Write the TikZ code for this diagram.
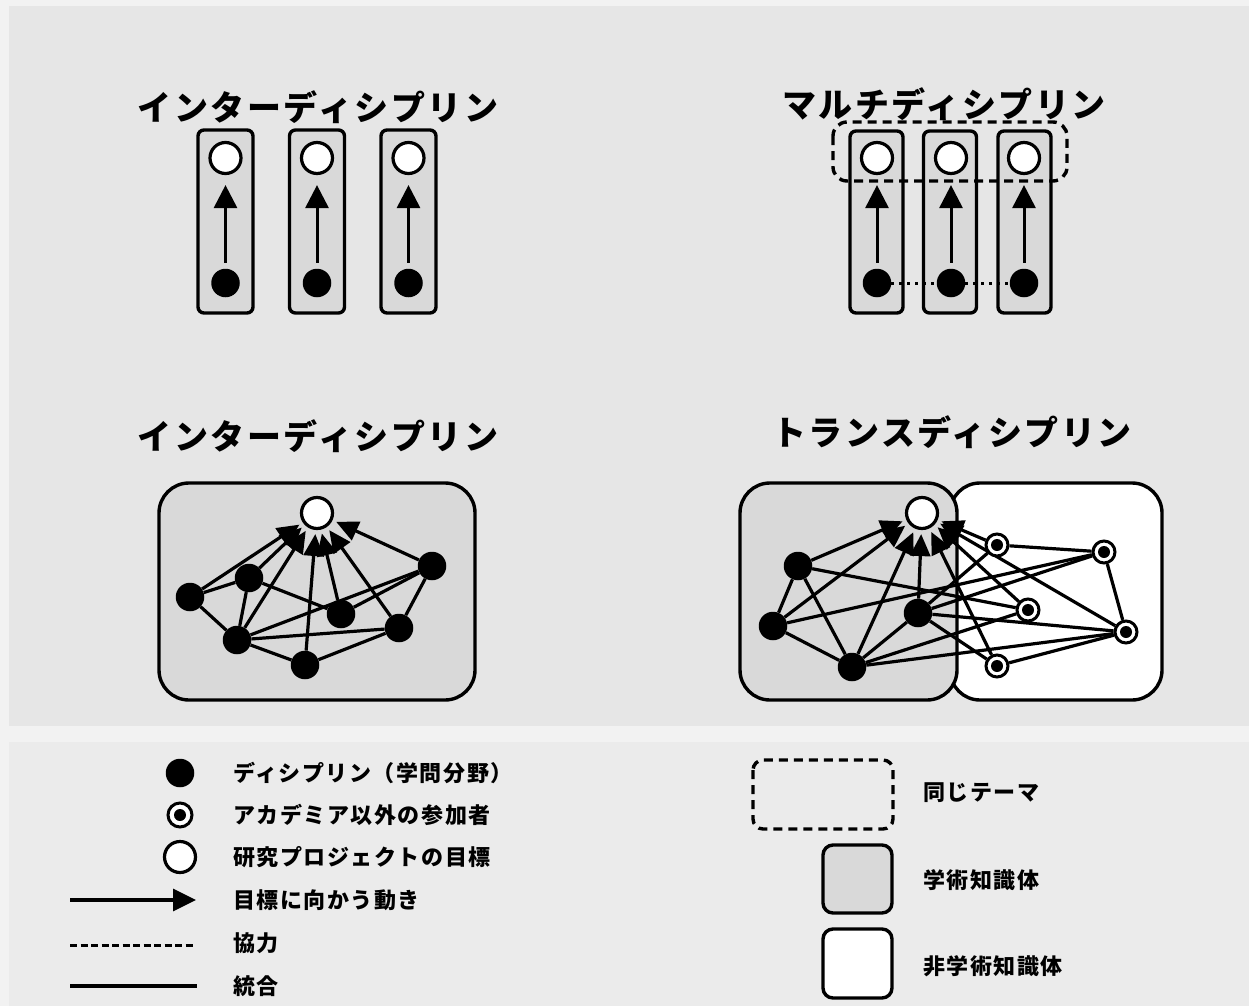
\documentclass[tikz,border=0pt]{standalone}
\usepackage{fontspec}
\setmainfont{Noto Sans CJK JP}
\newfontfamily\titlefont{Noto Sans CJK JP}[LetterSpace=7.5]
\newfontfamily\legfont{Noto Sans CJK JP}[LetterSpace=7]
\usetikzlibrary{arrows.meta}
\pgfdeclarelayer{back}
\pgfdeclarelayer{edges}
\pgfsetlayers{back,edges,main}
\definecolor{outerbg}{HTML}{F2F2F2}
\definecolor{panelbg}{HTML}{E6E6E6}
\definecolor{legendbg}{HTML}{EBEBEB}
\definecolor{boxgray}{HTML}{D9D9D9}
\begin{document}
\begin{tikzpicture}[x=1pt,y=-1pt,
  goal/.style={circle,draw,fill=white,line width=3.2pt,minimum size=31pt,inner sep=0pt},
  disc/.style={circle,fill=black,minimum size=28.5pt,inner sep=0pt},
  part/.style={circle,draw,fill=white,line width=3pt,minimum size=22pt,inner sep=0pt,
    path picture={\fill[black] (path picture bounding box.center) circle (6pt);}},
  link/.style={line width=3.2pt},
  goalarrow/.style={line width=3.2pt,-{Triangle[length=22pt,width=20pt]},shorten >=4pt},
  uparrow/.style={line width=3pt,-{Triangle[length=23pt,width=23pt]}},
  colbox/.style={draw,line width=3.4pt,fill=boxgray,rounded corners=6pt},
  whitebox/.style={draw,line width=3.4pt,fill=white,rounded corners=6pt},
  themebox/.style={draw,line width=3.4pt,dash pattern=on 9pt off 6pt},
  title/.style={font=\titlefont\bfseries\fontsize{34}{34}\selectfont,inner sep=0pt},
  legtext/.style={font=\legfont\bfseries\fontsize{22}{22}\selectfont,anchor=west,inner sep=0pt},
]
\useasboundingbox (0,0) rectangle (1249,1006);
\begin{pgfonlayer}{back}
\fill[outerbg] (0,0) rectangle (1249,1006);
\fill[panelbg] (9,6) rectangle (1249,726);
\fill[legendbg] (9,742) rectangle (1249,1006);
% top-left boxes
\foreach \cx in {225.5,317,408.5} \draw[colbox] (\cx-27.5,130) rectangle (\cx+27.5,313);
% top-right boxes
\foreach \cx in {876.5,950,1024.5} \draw[colbox] (\cx-26.5,131) rectangle (\cx+26.5,313);
% bottom panels
\draw[colbox,rounded corners=30pt] (159,483) rectangle (475,700);
\draw[whitebox,rounded corners=30pt] (950,483) rectangle (1162,700);
\draw[colbox,rounded corners=30pt] (740,483) rectangle (957,700);
\end{pgfonlayer}

% titles
\node[title] (t1) at (318,107) {インターディシプリン};
\node[title] (t2) at (944,104) {マルチディシプリン};
\node[title] (t3) at (318,436) {インターディシプリン};
\node[title] (t4) at (952,432) {トランスディシプリン};

% top-left
\foreach \i/\cx in {1/225.5,2/317,3/408.5}{
  \node[goal] (tlg\i) at (\cx,158) {};
  \node[disc] (tld\i) at (\cx,283) {};
  \draw[uparrow,shorten >=10pt,shorten <=6pt] (tld\i) -- (tlg\i);
}
% top-right
\foreach \i/\cx in {1/877,2/951,3/1024}{
  \node[goal] (trg\i) at (\cx,158) {};
  \node[disc] (trd\i) at (\cx,283) {};
  \draw[uparrow,shorten >=10pt,shorten <=6pt] (trd\i) -- (trg\i);
}
\begin{pgfonlayer}{edges}
\draw[line width=3pt,dash pattern=on 3pt off 5pt] (trd1) -- (trd2);
\draw[line width=3pt,dash pattern=on 3pt off 5pt] (trd2) -- (trd3);
\end{pgfonlayer}
\draw[themebox,rounded corners=14pt] (833,122) rectangle (1067,181);

% bottom-left network
\node[goal] (blg) at (317,513) {};
\node[disc] (a) at (190,597) {};
\node[disc] (b) at (249,578) {};
\node[disc] (c) at (237,640) {};
\node[disc] (d) at (305,665) {};
\node[disc] (e) at (341,614) {};
\node[disc] (f) at (399,628) {};
\node[disc] (g) at (432,566) {};
\begin{pgfonlayer}{edges}
\foreach \u/\v in {a/b,a/c,b/c,b/e,c/d,c/f,c/g,d/f,e/g,f/g}
  \draw[link] (\u) -- (\v);
\foreach \u in {a,b,c,d,e,f,g}
  \draw[goalarrow] (\u) -- (blg);
\end{pgfonlayer}

% bottom-right network
\node[goal] (brg) at (922,513) {};
\node[disc] (p1) at (798,566) {};
\node[disc] (p2) at (773,626) {};
\node[disc] (p3) at (852,667) {};
\node[disc] (p4) at (918,613) {};
\node[part] (q1) at (997,545) {};
\node[part] (q2) at (1104,552) {};
\node[part] (q3) at (1028,610) {};
\node[part] (q4) at (1126,632) {};
\node[part] (q5) at (997,666) {};
\begin{pgfonlayer}{edges}
\foreach \u/\v in {p1/p2,p1/p3,p1/q3,p2/p3,p2/q2,p3/p4,p3/q3,p3/q4,p4/q1,p4/q2,p4/q4,p4/q5,q1/q2,q2/q4,q4/q5}
  \draw[link] (\u) -- (\v);
\foreach \u in {p1,p2,p3,p4,q1,q3,q4,q5}
  \draw[goalarrow] (\u) -- (brg);
\end{pgfonlayer}

% legend left
\node[disc] (ld) at (180,773) {};
\node[part,minimum size=24pt] (lp) at (180,815) {};
\node[goal] (lg) at (180,857) {};
\coordinate (la1) at (70,900);
\coordinate (la2) at (196,900);
\draw[line width=3.2pt,-{Triangle[length=23pt,width=22pt]}] (la1) -- (la2);
\coordinate (lc1) at (70,945);
\coordinate (lc2) at (195,945);
\draw[line width=3pt,dash pattern=on 7pt off 3.5pt] (lc1) -- (lc2);
\coordinate (li1) at (70,986);
\coordinate (li2) at (197,986);
\draw[line width=3.6pt] (li1) -- (li2);
\node[legtext] (lt1) at (233,773) {ディシプリン（学問分野）};
\node[legtext] (lt2) at (233,815) {アカデミア以外の参加者};
\node[legtext] (lt3) at (233,857) {研究プロジェクトの目標};
\node[legtext] (lt4) at (233,900) {目標に向かう動き};
\node[legtext] (lt5) at (233,943) {協力};
\node[legtext] (lt6) at (233,986) {統合};

% legend right
\draw[themebox,rounded corners=10pt] (753,760) rectangle (893,829);
\draw[colbox,rounded corners=10pt] (823,845) rectangle (892,913);
\draw[whitebox,rounded corners=10pt] (823,929) rectangle (892,998);
\node[legtext] (rt1) at (923,793) {同じテーマ};
\node[legtext] (rt2) at (923,880) {学術知識体};
\node[legtext] (rt3) at (923,966) {非学術知識体};
\end{tikzpicture}
\end{document}
